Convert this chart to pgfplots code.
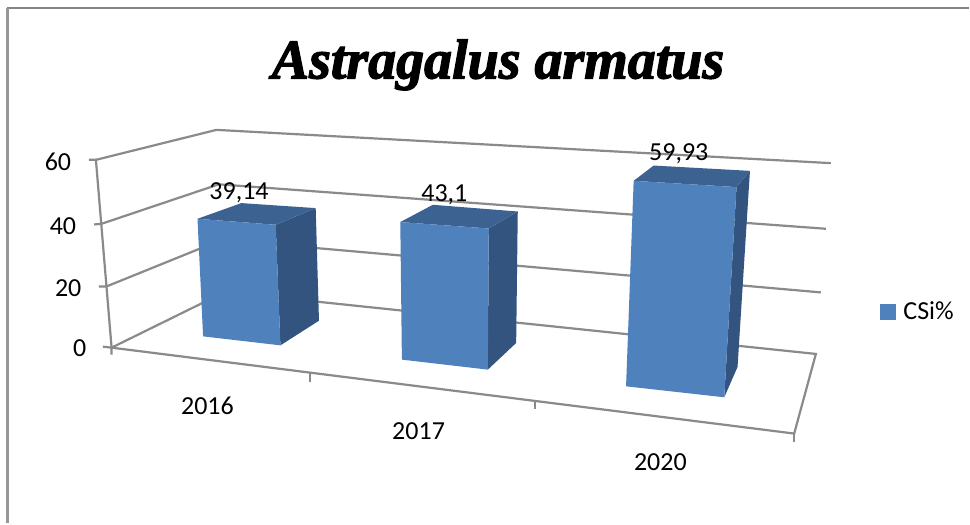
\documentclass[border=0pt]{standalone}
\usepackage{pgfplots}
\pgfplotsset{compat=1.18}
\usepackage{fontspec}
\setmainfont{Carlito}
\newfontfamily\titlefont[BoldItalicFeatures={FakeBold=2.2}]{Liberation Serif}
\definecolor{front}{HTML}{4F81BD}
\definecolor{topf}{HTML}{3C6291}
\definecolor{sidef}{HTML}{32547E}
\definecolor{gridc}{HTML}{8A8A8A}
\definecolor{framec}{HTML}{858585}
\newcommand{\lab}[3]{\node[font=\fontsize{26}{30}\selectfont,inner sep=0pt,text=black,anchor=center] at (axis cs:#1,#2) {#3};}
\newcommand{\face}[2]{\addplot[fill=#1,draw=none,forget plot] table[row sep=\\,x expr=\thisrow{x0}+\thisrow{ax}*\thisrow{v},y expr=\thisrow{y0}+\thisrow{ay}*\thisrow{v}] {#2};}
\begin{document}
\begin{tikzpicture}
\begin{axis}[
  scale only axis, width=970pt, height=524pt,
  xmin=0, xmax=970, ymin=0, ymax=524, y dir=reverse,
  hide axis, clip=false,
  legend style={draw=none,fill=none,at={(axis cs:881,312)},anchor=west,
    font=\fontsize{26}{30}\selectfont,inner sep=0pt,outer sep=0pt,
    /tikz/every even column/.style={column sep=0pt}},
]
% page background
\addplot[fill=white,draw=none,forget plot] coordinates {(0,0) (970,0) (970,524) (0,524)};
% outer frame
\addplot[framec,line width=2pt,forget plot] coordinates {(7,8.5) (970,8.5)};
\addplot[framec!85,line width=3pt,forget plot] coordinates {(8,524) (8,8)};
% walls and floor
\addplot[gridc,line width=2.2pt,forget plot] coordinates {(89,160) (96,160) (216.7,130) (831.7,163.3)};
\addplot[gridc,line width=2.2pt,forget plot] coordinates {(94.3,224.7) (101.7,224) (219,184.5) (826.7,229)};
\addplot[gridc,line width=2.2pt,forget plot] coordinates {(99,286.7) (106.7,286.7) (222,240) (821.7,292.7)};
\addplot[gridc,line width=2.2pt,forget plot] coordinates {(103,347) (111.7,348) (225,292.3) (816.7,354.3) (795,434) (111.7,348)};
\addplot[gridc,line width=2.2pt,forget plot] coordinates {(96,160) (111.7,348) (111.7,355)};
\addplot[gridc,line width=2.2pt,forget plot] coordinates {(310,373) (310,382)};
\addplot[gridc,line width=2.2pt,forget plot] coordinates {(535.7,402) (535.7,409)};
\addplot[gridc,line width=2.2pt,forget plot] coordinates {(795,434) (795,442)};
% bar 2016: value 39.14
\face{sidef}{
x0 y0 ax ay v\\
280.7 345.7 -0.120 -3.084 0\\
319.3 321.0 -0.084 -2.879 0\\
319.3 321.0 -0.084 -2.879 39.14\\
280.7 345.7 -0.120 -3.084 39.14\\
}
\face{topf}{
x0 y0 ax ay v\\
203.3 336.7 -0.143 -3.007 39.14\\
245.0 312.0 -0.087 -2.777 39.14\\
319.3 321.0 -0.084 -2.879 39.14\\
280.7 345.7 -0.120 -3.084 39.14\\
}
\face{front}{
x0 y0 ax ay v\\
203.3 336.7 -0.143 -3.007 0\\
280.7 345.7 -0.120 -3.084 0\\
280.7 345.7 -0.120 -3.084 39.14\\
203.3 336.7 -0.143 -3.007 39.14\\
}
% bar 2017: value 43.1
\face{sidef}{
x0 y0 ax ay v\\
488.3 370.0 0.023 -3.278 0\\
516.7 343.3 0.037 -3.053 0\\
516.7 343.3 0.037 -3.053 43.1\\
488.3 370.0 0.023 -3.278 43.1\\
}
\face{topf}{
x0 y0 ax ay v\\
402.3 360.0 -0.037 -3.195 43.1\\
432.0 333.0 0.030 -2.970 43.1\\
516.7 343.3 0.037 -3.053 43.1\\
488.3 370.0 0.023 -3.278 43.1\\
}
\face{front}{
x0 y0 ax ay v\\
402.3 360.0 -0.037 -3.195 0\\
488.3 370.0 0.023 -3.278 0\\
488.3 370.0 0.023 -3.278 43.1\\
402.3 360.0 -0.037 -3.195 43.1\\
}
% bar 2020: value 59.93
\face{sidef}{
x0 y0 ax ay v\\
725.0 397.7 0.205 -3.511 0\\
738.3 367.3 0.207 -3.275 0\\
738.3 367.3 0.207 -3.275 59.93\\
725.0 397.7 0.205 -3.511 59.93\\
}
\face{topf}{
x0 y0 ax ay v\\
626.7 386.7 0.127 -3.432 59.93\\
643.0 360.0 0.189 -3.242 59.93\\
738.3 367.3 0.207 -3.275 59.93\\
725.0 397.7 0.205 -3.511 59.93\\
}
\face{front}{
x0 y0 ax ay v\\
626.7 386.7 0.127 -3.432 0\\
725.0 397.7 0.205 -3.511 0\\
725.0 397.7 0.205 -3.511 59.93\\
626.7 386.7 0.127 -3.432 59.93\\
}
% legend
\addlegendimage{legend image code/.code={\fill[front] (0pt,-7.5pt) rectangle (15pt,7.5pt);}}
\addlegendentry{\hspace{6pt}CSi\%}
% tick labels
\lab{58}{161.7}{60}
\lab{63}{226.7}{40}
\lab{68.3}{288}{20}
\lab{79.7}{349}{0}
\lab{207.7}{406}{2016}
\lab{419}{431.7}{2017}
\lab{661}{462.7}{2020}
% data labels
\lab{239.3}{192.7}{39,14}
\lab{444.8}{195}{43,1}
\lab{679.5}{154}{59,93}
% title
\node[font=\titlefont\bfseries\itshape\fontsize{56}{60}\selectfont,inner sep=0pt,anchor=base,text=black] at (axis cs:498.5,78.5) {Astragalus armatus};
\end{axis}
\end{tikzpicture}
\end{document}
